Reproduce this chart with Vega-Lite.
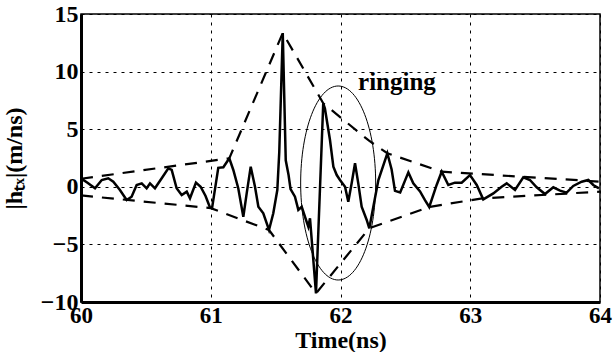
{
  "$schema": "https://vega.github.io/schema/vega-lite/v6.json",
  "width": 519,
  "height": 288,
  "autosize": "none",
  "padding": {"left": 81, "top": 14, "right": 14, "bottom": 50},
  "datasets": {
    "signal": [
      {"t": 60.0, "v": 0.5}, {"t": 60.018, "v": 0.6}, {"t": 60.05, "v": 0.35}, {"t": 60.108, "v": -0.13},
      {"t": 60.16, "v": 0.59}, {"t": 60.21, "v": 0.74}, {"t": 60.249, "v": 0.44}, {"t": 60.3, "v": -0.28},
      {"t": 60.352, "v": -1.15}, {"t": 60.39, "v": -0.86}, {"t": 60.429, "v": 0.16}, {"t": 60.468, "v": 0.3},
      {"t": 60.506, "v": -0.13}, {"t": 60.532, "v": 0.3}, {"t": 60.57, "v": -0.13}, {"t": 60.622, "v": 0.74},
      {"t": 60.673, "v": 1.6}, {"t": 60.699, "v": 1.46}, {"t": 60.737, "v": -0.13}, {"t": 60.776, "v": -0.71},
      {"t": 60.815, "v": -0.42}, {"t": 60.84, "v": -1.0}, {"t": 60.886, "v": 0.36}, {"t": 60.922, "v": 0.01},
      {"t": 60.96, "v": -0.8}, {"t": 60.994, "v": -1.8}, {"t": 61.01, "v": -1.85}, {"t": 61.058, "v": 1.65},
      {"t": 61.097, "v": 1.7}, {"t": 61.143, "v": 2.47}, {"t": 61.174, "v": 1.46}, {"t": 61.212, "v": -0.13},
      {"t": 61.251, "v": -2.6}, {"t": 61.277, "v": -0.57}, {"t": 61.308, "v": 1.75}, {"t": 61.341, "v": 0.01},
      {"t": 61.367, "v": -1.73}, {"t": 61.405, "v": -2.3}, {"t": 61.449, "v": -3.75}, {"t": 61.482, "v": -2.3},
      {"t": 61.513, "v": -0.28}, {"t": 61.528, "v": 3.0}, {"t": 61.555, "v": 13.35}, {"t": 61.578, "v": 2.3},
      {"t": 61.6, "v": 1.0}, {"t": 61.615, "v": -0.2}, {"t": 61.649, "v": -0.86}, {"t": 61.675, "v": -2.0},
      {"t": 61.701, "v": -1.73}, {"t": 61.726, "v": -2.6}, {"t": 61.752, "v": -3.46}, {"t": 61.765, "v": -2.74},
      {"t": 61.811, "v": -9.25}, {"t": 61.867, "v": 7.25}, {"t": 61.88, "v": 6.8}, {"t": 61.919, "v": 4.06},
      {"t": 61.945, "v": 1.75}, {"t": 61.971, "v": 1.02}, {"t": 61.996, "v": 0.59}, {"t": 62.035, "v": 0.01},
      {"t": 62.06, "v": -1.29}, {"t": 62.086, "v": 0.3}, {"t": 62.112, "v": 2.04}, {"t": 62.137, "v": 0.3},
      {"t": 62.163, "v": -1.73}, {"t": 62.202, "v": -2.88}, {"t": 62.222, "v": -3.6}, {"t": 62.253, "v": -1.73},
      {"t": 62.292, "v": 0.59}, {"t": 62.361, "v": 2.91}, {"t": 62.394, "v": 1.5}, {"t": 62.42, "v": -0.35},
      {"t": 62.46, "v": -0.5}, {"t": 62.523, "v": 1.25}, {"t": 62.561, "v": 0.3}, {"t": 62.613, "v": -0.4},
      {"t": 62.651, "v": -1.15}, {"t": 62.684, "v": -1.75}, {"t": 62.741, "v": 0.16}, {"t": 62.78, "v": 1.31},
      {"t": 62.831, "v": 0.16}, {"t": 62.882, "v": 0.36}, {"t": 62.934, "v": 0.36}, {"t": 62.998, "v": 1.02},
      {"t": 63.05, "v": 0.16}, {"t": 63.1, "v": -1.09}, {"t": 63.178, "v": -0.57}, {"t": 63.242, "v": 0.01},
      {"t": 63.281, "v": 0.3}, {"t": 63.345, "v": -0.28}, {"t": 63.409, "v": 0.82}, {"t": 63.46, "v": 0.59},
      {"t": 63.512, "v": -0.04}, {"t": 63.576, "v": -0.63}, {"t": 63.64, "v": -0.04}, {"t": 63.692, "v": -0.33},
      {"t": 63.743, "v": -0.51}, {"t": 63.794, "v": 0.07}, {"t": 63.859, "v": 0.44}, {"t": 63.91, "v": 0.59},
      {"t": 63.948, "v": 0.16}, {"t": 63.992, "v": -0.13}
    ],
    "envelope": [
      {"side": "upper", "t": 60.0, "v": 0.7}, {"side": "upper", "t": 61.143, "v": 2.47},
      {"side": "upper", "t": 61.555, "v": 13.35}, {"side": "upper", "t": 61.867, "v": 7.25},
      {"side": "upper", "t": 62.22, "v": 4.0}, {"side": "upper", "t": 62.361, "v": 2.91},
      {"side": "upper", "t": 62.78, "v": 1.31}, {"side": "upper", "t": 64.0, "v": 0.45},
      {"side": "lower", "t": 60.0, "v": -0.75}, {"side": "lower", "t": 61.0, "v": -1.85},
      {"side": "lower", "t": 61.449, "v": -3.75}, {"side": "lower", "t": 61.811, "v": -9.25},
      {"side": "lower", "t": 62.222, "v": -3.6}, {"side": "lower", "t": 62.684, "v": -1.75},
      {"side": "lower", "t": 63.08, "v": -1.02}, {"side": "lower", "t": 64.0, "v": -0.42}
    ],
    "ellipse": [{"t": 61.982, "v": 0.33}],
    "note": [{"t": 62.435, "v": 9.14, "label": "ringing"}]
  },
  "encoding": {
    "x": {
      "field": "t", "type": "quantitative",
      "scale": {"domain": [60, 64], "nice": false, "zero": false},
      "axis": {"values": [60, 61, 62, 63, 64], "title": "Time(ns)", "format": "d", "labelPadding": 2, "titlePadding": 1,
               "labelFontWeight": 900, "labelFontSize": 23, "titleFontWeight": "bold", "titleFontSize": 24}
    },
    "y": {
      "field": "v", "type": "quantitative",
      "scale": {"domain": [-10, 15], "nice": false, "zero": false},
      "axis": {"values": [-10, -5, 0, 5, 10, 15], "title": "|hₜₓ|(m/ns)", "format": "d", "labelPadding": 3, "titlePadding": 14,
               "labelFontWeight": 900, "labelFontSize": 24, "titleFontWeight": "bold", "titleFontSize": 24}
    }
  },
  "layer": [
    {
      "data": {"name": "envelope"},
      "mark": {"type": "line", "color": "black", "strokeWidth": 2.2, "strokeDash": [12, 9]},
      "encoding": {"detail": {"field": "side"}}
    },
    {
      "data": {"name": "signal"},
      "mark": {"type": "line", "color": "black", "strokeWidth": 2.5}
    },
    {
      "data": {"name": "ellipse"},
      "mark": {
        "type": "point", "filled": false, "stroke": "black", "strokeWidth": 1, "opacity": 1,
        "size": 37636,
        "shape": "M0,-1 C0.2135,-1 0.3866,-0.5523 0.3866,0 C0.3866,0.5523 0.2135,1 0,1 C-0.2135,1 -0.3866,0.5523 -0.3866,0 C-0.3866,-0.5523 -0.2135,-1 0,-1 Z"
      }
    },
    {
      "data": {"name": "note"},
      "mark": {"type": "text", "font": "Liberation Serif", "fontWeight": "bold", "fontSize": 25, "color": "black", "align": "center", "baseline": "middle"},
      "encoding": {"text": {"field": "label"}}
    }
  ],
  "config": {
    "font": "Liberation Serif",
    "view": {"stroke": "black", "strokeWidth": 1.5},
    "axis": {
      "labelFont": "Liberation Serif", "titleFont": "Liberation Serif",
      "labelColor": "black", "titleColor": "black",
      "labelFlush": false, "labelOverlap": false,
      "domainColor": "black", "domainWidth": 3,
      "ticks": false,
      "grid": true, "gridColor": "black", "gridDash": [3, 5], "gridWidth": 1, "gridOpacity": 1
    }
  }
}
